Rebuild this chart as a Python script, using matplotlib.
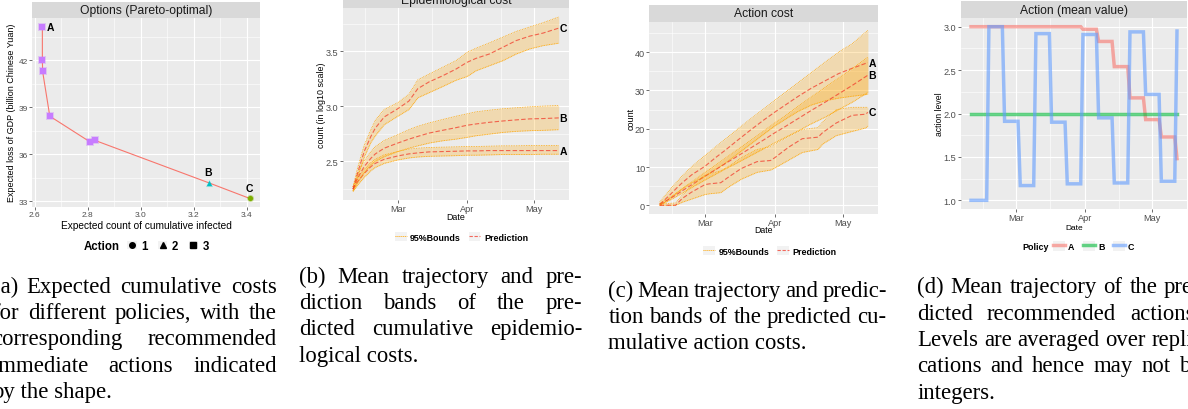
import numpy as np
import matplotlib
matplotlib.use('Agg')
import matplotlib.pyplot as plt
import matplotlib.dates as mdates
from matplotlib.lines import Line2D
from matplotlib.patches import Rectangle
from matplotlib.legend_handler import HandlerTuple

W, H = 1188, 410
START = np.datetime64('2020-02-10')

# (a) Pareto-optimal options
opt_infected = [2.629, 2.629, 2.630, 2.657, 2.809, 2.827, 3.256, 3.411]
opt_gdp_loss = [44.14, 42.00, 41.28, 38.43, 36.79, 36.89, 34.19, 33.19]
opt_action = [3, 3, 3, 3, 3, 3, 2, 1]
opt_names = {0: 'A', 6: 'B', 7: 'C'}

# (b) epidemiological cost, log10 counts
epi_days = [0, 2, 5, 8, 10, 14, 20, 25, 29, 34, 40, 46, 51, 55, 61, 67, 73, 79, 85, 92]
epi_A_mean = [2.245, 2.312, 2.388, 2.450, 2.480, 2.517, 2.547, 2.566, 2.575, 2.584, 2.587, 2.590, 2.593, 2.593, 2.596, 2.596, 2.596, 2.596, 2.596, 2.596]
epi_A_lo = [2.226, 2.281, 2.352, 2.413, 2.443, 2.480, 2.511, 2.529, 2.538, 2.544, 2.547, 2.550, 2.554, 2.554, 2.557, 2.560, 2.560, 2.560, 2.563, 2.563]
epi_A_hi = [2.266, 2.343, 2.425, 2.486, 2.517, 2.557, 2.587, 2.609, 2.618, 2.624, 2.627, 2.630, 2.633, 2.633, 2.636, 2.639, 2.639, 2.642, 2.642, 2.642]
epi_B_mean = [2.245, 2.343, 2.450, 2.526, 2.566, 2.618, 2.664, 2.700, 2.725, 2.755, 2.780, 2.804, 2.826, 2.838, 2.853, 2.865, 2.875, 2.884, 2.887, 2.893]
epi_B_lo = [2.226, 2.303, 2.394, 2.465, 2.498, 2.541, 2.587, 2.618, 2.639, 2.664, 2.685, 2.700, 2.716, 2.731, 2.746, 2.761, 2.771, 2.777, 2.780, 2.786]
epi_B_hi = [2.266, 2.382, 2.505, 2.587, 2.633, 2.688, 2.740, 2.786, 2.817, 2.847, 2.878, 2.908, 2.930, 2.948, 2.963, 2.976, 2.985, 2.994, 3.000, 3.006]
epi_C_mean = [2.245, 2.388, 2.587, 2.725, 2.801, 2.902, 2.976, 3.046, 3.159, 3.220, 3.275, 3.336, 3.398, 3.434, 3.474, 3.535, 3.596, 3.636, 3.664, 3.709]
epi_C_lo = [2.229, 2.352, 2.535, 2.670, 2.731, 2.832, 2.908, 2.969, 3.076, 3.122, 3.177, 3.235, 3.269, 3.321, 3.367, 3.413, 3.474, 3.520, 3.550, 3.572]
epi_C_hi = [2.266, 2.434, 2.642, 2.786, 2.872, 2.970, 3.031, 3.107, 3.239, 3.291, 3.352, 3.413, 3.489, 3.526, 3.575, 3.627, 3.679, 3.719, 3.758, 3.810]

# (c) action cost
act_days = [0, 2, 5, 8, 10, 14, 20, 25, 29, 34, 40, 46, 51, 55, 61, 67, 73, 79, 85, 92]
act_A_mean = [0.3, 1.3, 3.0, 4.8, 5.9, 7.9, 10.2, 12.6, 14.4, 16.8, 19.6, 22.3, 24.4, 26.0, 28.4, 30.6, 32.5, 34.4, 35.8, 37.3]
act_A_lo = [0.0, 0.7, 2.0, 3.3, 4.2, 5.8, 7.6, 9.5, 11.0, 13.2, 15.9, 18.6, 20.8, 22.3, 24.5, 26.2, 27.3, 28.0, 28.5, 29.0]
act_A_hi = [0.8, 2.3, 4.4, 6.4, 7.7, 10.0, 13.0, 15.4, 17.3, 19.7, 22.5, 25.2, 27.5, 29.3, 32.0, 34.7, 37.4, 40.0, 42.2, 45.7]
act_B_mean = [0.2, 0.9, 1.9, 3.0, 3.8, 5.3, 7.6, 9.4, 10.9, 12.7, 14.9, 17.1, 19.0, 20.4, 22.6, 24.8, 26.9, 29.1, 31.3, 34.0]
act_B_lo = [0.0, 0.6, 1.5, 2.5, 3.2, 4.6, 6.6, 8.2, 9.5, 11.0, 12.9, 14.8, 16.4, 17.6, 19.4, 21.3, 23.0, 25.0, 26.9, 29.5]
act_B_hi = [0.4, 1.2, 2.3, 3.5, 4.4, 6.0, 8.6, 10.6, 12.3, 14.4, 16.9, 19.4, 21.6, 23.2, 25.8, 28.3, 30.8, 33.2, 35.7, 38.7]
act_C_days = [0, 7, 10, 14, 20, 22, 27, 30, 36, 43, 49, 51, 57, 63, 70, 72, 78, 85, 91, 92]
act_C_mean = [0.0, 0.0, 1.8, 3.4, 5.4, 5.6, 5.9, 7.2, 9.6, 11.4, 11.7, 12.5, 15.2, 17.4, 17.8, 19.0, 21.5, 23.5, 23.8, 24.3]
act_C_lo = [0.0, 0.0, 0.8, 1.6, 2.8, 3.0, 3.3, 4.6, 6.8, 8.6, 9.2, 9.8, 11.8, 13.8, 14.6, 16.0, 18.2, 19.3, 20.2, 20.7]
act_C_hi = [0.3, 0.6, 2.6, 5.0, 7.8, 8.2, 9.0, 10.0, 12.4, 14.6, 15.3, 16.0, 18.0, 19.8, 20.3, 21.8, 25.0, 25.6, 25.6, 25.6]

# (d) mean action level, corner points of the step paths
lvl_A_days = [0, 49, 50, 56, 57, 63, 64, 70, 71, 77, 78, 84, 85, 91, 92]
lvl_A_vals = [3.00, 3.00, 2.97, 2.97, 2.83, 2.83, 2.54, 2.54, 2.18, 2.18, 1.93, 1.93, 1.73, 1.73, 1.48]
lvl_B_days = [0, 92]
lvl_B_vals = [2.00, 2.00]
lvl_C_days = [0, 7, 8, 14, 15, 21, 22, 28, 29, 35, 36, 42, 43, 49, 50, 56, 57, 63, 64, 70, 71, 77, 78, 84, 85, 91, 92]
lvl_C_vals = [1.00, 1.00, 3.00, 3.00, 1.91, 1.91, 1.17, 1.17, 2.92, 2.92, 1.90, 1.90, 1.19, 1.19, 2.91, 2.91,
              1.95, 1.95, 1.20, 1.20, 2.94, 2.94, 2.22, 2.22, 1.22, 1.22, 2.95]

cap_a = ["(a) Expected cumulative costs", "for different policies, with the", "corresponding recommended",
         "immediate actions indicated", "by the shape."]
cap_b = ["(b) Mean trajectory and pre-", "diction bands of the pre-", "dicted cumulative epidemio-", "logical costs."]
cap_c = ["(c) Mean trajectory and predic-", "tion bands of the predicted cu-", "mulative action costs."]
cap_d = ["(d) Mean trajectory of the pre-", "dicted recommended actions.", "Levels are averaged over repli-",
         "cations and hence may not be", "integers."]

ACTION_STYLE = {1: ('o', '#7CAE00'), 2: ('^', '#00BFC4'), 3: ('s', '#C77CFF')}
POLICY_COL = {'A': '#F8766D', 'B': '#00BA38', 'C': '#619CFF'}
BAND = 'orange'
PRED = '#F23A2A'

plt.rcParams['font.family'] = 'Liberation Sans'
fig = plt.figure(figsize=(W / 100, H / 100), dpi=100)


def fx(x):
    return x / W


def fy(y):
    return 1 - y / H


def panel(l, t, r, b, title, strip_h=17):
    # t is the top of the facet strip, b the bottom of the plotting panel (pixels)
    s = fig.add_axes([fx(l), fy(t + strip_h), (r - l) / W, strip_h / H])
    s.set_facecolor('#D9D9D9')
    s.set_xticks([]); s.set_yticks([])
    for sp in s.spines.values():
        sp.set_visible(False)
    s.text(0.5, 0.5, title, ha='center', va='center', fontsize=8.7, color='#1A1A1A', transform=s.transAxes)
    ax = fig.add_axes([fx(l), fy(b), (r - l) / W, (b - t - strip_h) / H])
    ax.set_facecolor('#EBEBEB')
    for sp in ax.spines.values():
        sp.set_visible(False)
    ax.grid(which='major', color='white', lw=0.8)
    ax.grid(which='minor', color='white', lw=0.4)
    ax.set_axisbelow(True)
    ax.tick_params(which='major', length=2, width=0.5, color='#333333', labelcolor='#4D4D4D', pad=1, labelsize=6.6)
    ax.tick_params(which='minor', length=0)
    return ax


def expand(lo, hi):
    d = (hi - lo) * 0.05
    return lo - d, hi + d


def to_dates(days):
    return START + np.asarray(days).astype('timedelta64[D]')


def date_axis(ax):
    t0 = mdates.date2num(START)
    ax.set_xlim(t0 - 4.6, t0 + 96.6)
    ax.xaxis.set_major_locator(mdates.MonthLocator())
    ax.xaxis.set_major_formatter(mdates.DateFormatter('%b'))
    starts = mdates.date2num(np.arange('2020-02', '2020-07', dtype='datetime64[M]').astype('datetime64[D]'))
    ax.xaxis.set_minor_locator(matplotlib.ticker.FixedLocator((starts[:-1] + starts[1:]) / 2))


def label(x, y, s, size, rot=0):
    fig.text(fx(x), fy(y), s, ha='center', va='center', fontsize=size, rotation=rot, color='black')


def legend(handles, labels, lx, cy, size, hl, title=None, tx=None):
    fig.legend(handles, labels, loc='center left', bbox_to_anchor=(fx(lx), fy(cy)), ncol=len(labels),
               frameon=False, prop=dict(weight='bold', size=size), handlelength=hl, handleheight=hl,
               handletextpad=0.4, columnspacing=0.9, borderpad=0, borderaxespad=0,
               handler_map={tuple: HandlerTuple(ndivide=1, pad=0)})
    if title:
        fig.text(fx(tx), fy(cy), title, ha='left', va='center', fontsize=size, weight='bold')


key_bg = lambda: Rectangle((0, 0), 1, 1, facecolor='#F2F2F2', edgecolor='none')

# ---------- (a) ----------
ax = panel(32, 2.7, 260, 208, 'Options (Pareto-optimal)', strip_h=16.3)
ax.plot(opt_infected, opt_gdp_loss, color='#F8766D', lw=0.8, zorder=2)
acts = np.array(opt_action)
for act, (mk, col) in ACTION_STYLE.items():
    m = acts == act
    xs = np.array(opt_infected)[m]
    ys = np.array(opt_gdp_loss)[m]
    ax.scatter(xs, ys, marker=mk, s=26, color=col, alpha=0.35, lw=0, zorder=3)
    ax.scatter(xs, ys, marker=mk, s=14, color=col, lw=0, zorder=4)
for i, name in opt_names.items():
    if name == 'A':
        ax.annotate(name, (opt_infected[i], opt_gdp_loss[i]), xytext=(3, 0), textcoords='offset points',
                    ha='left', va='center', fontsize=7.5, weight='bold')
    else:
        ax.annotate(name, (opt_infected[i], opt_gdp_loss[i]), xytext=(0, 7.5), textcoords='offset points',
                    ha='center', va='center', fontsize=7.5, weight='bold')
ax.set_xlim(*expand(min(opt_infected), max(opt_infected)))
ax.set_ylim(*expand(min(opt_gdp_loss), max(opt_gdp_loss)))
ax.set_xticks([2.6, 2.8, 3.0, 3.2, 3.4])
ax.set_xticks([2.7, 2.9, 3.1, 3.3], minor=True)
ax.set_yticks([33, 36, 39, 42])
ax.set_yticks([34.5, 37.5, 40.5, 43.5], minor=True)
ax.tick_params(labelsize=6.0)
label(146, 225.7, 'Expected count of cumulative infected', 7.3)
label(11.7, 113, 'Expected loss of GDP (billion Chinese Yuan)', 6.5, rot=90)
hs = [(key_bg(), Line2D([], [], ls='none', marker=mk, color='black', ms=4)) for mk, _ in ACTION_STYLE.values()]
legend(hs, ['1', '2', '3'], 127.3, 247, 8.3, 0.8, title='Action', tx=84)

# ---------- (b) ----------
ax = panel(342.7, -7.7, 569, 201, 'Epidemiological cost')
d = to_dates(epi_days)
for name, mean, lo, hi in [('A', epi_A_mean, epi_A_lo, epi_A_hi), ('B', epi_B_mean, epi_B_lo, epi_B_hi),
                           ('C', epi_C_mean, epi_C_lo, epi_C_hi)]:
    ax.fill_between(d, lo, hi, color=BAND, alpha=0.25, lw=0)
    ax.plot(d, lo, color=BAND, lw=0.6, ls=(0, (1, 1)))
    ax.plot(d, hi, color=BAND, lw=0.6, ls=(0, (1, 1)))
    ax.plot(d, mean, color=PRED, alpha=0.75, lw=0.8, ls=(0, (4, 2)))
    ax.annotate(name, (d[-1], mean[-1]), xytext=(0.5, 0), textcoords='offset points',
                ha='left', va='center', fontsize=7.5, weight='bold')
date_axis(ax)
ax.set_ylim(*expand(min(epi_A_lo), max(epi_C_hi)))
ax.set_yticks([2.5, 3.0, 3.5])
ax.set_yticks([2.25, 2.75, 3.25, 3.75], minor=True)
label(455.8, 217.3, 'Date', 6.4)
label(321, 105, 'count (in log10 scale)', 6.4, rot=90)
hb = [(key_bg(), Line2D([], [], color=BAND, lw=0.7, ls=(0, (1, 1)))),
      (key_bg(), Line2D([], [], color=PRED, alpha=0.75, lw=0.8, ls=(0, (3, 1.5))))]
legend(hb, ['95%Bounds', 'Prediction'], 395, 237.7, 6.4, 1.3)

# ---------- (c) ----------
ax = panel(649.3, 5.7, 878.3, 215, 'Action cost')
d = to_dates(act_days)
dc = to_dates(act_C_days)
for name, dd, mean, lo, hi in [('A', d, act_A_mean, act_A_lo, act_A_hi), ('B', d, act_B_mean, act_B_lo, act_B_hi),
                               ('C', dc, act_C_mean, act_C_lo, act_C_hi)]:
    ax.fill_between(dd, lo, hi, color=BAND, alpha=0.25, lw=0)
    ax.plot(dd, lo, color=BAND, lw=0.6, ls=(0, (1, 1)))
    ax.plot(dd, hi, color=BAND, lw=0.6, ls=(0, (1, 1)))
    ax.plot(dd, mean, color=PRED, alpha=0.75, lw=0.8, ls=(0, (4, 2)))
    ax.annotate(name, (dd[-1], mean[-1]), xytext=(0.5, 0), textcoords='offset points',
                ha='left', va='center', fontsize=7.5, weight='bold')
date_axis(ax)
ax.set_ylim(*expand(0, max(act_A_hi)))
ax.set_yticks([0, 10, 20, 30, 40])
ax.set_yticks([5, 15, 25, 35, 45], minor=True)
label(763.8, 231, 'Date', 6.3)
label(630.7, 119, 'count', 6.5, rot=90)
legend(hb, ['95%Bounds', 'Prediction'], 703.3, 251.7, 6.4, 1.3)

# ---------- (d) ----------
ax = panel(960.7, 2.3, 1187.3, 210, 'Action (mean value)', strip_h=16.7)
for name, dd, vals in [('A', lvl_A_days, lvl_A_vals), ('B', lvl_B_days, lvl_B_vals), ('C', lvl_C_days, lvl_C_vals)]:
    ax.plot(to_dates(dd), vals, color=POLICY_COL[name], lw=2.5, alpha=0.6, solid_joinstyle='miter')
date_axis(ax)
ax.set_ylim(*expand(1.0, 3.0))
ax.set_yticks([1.0, 1.5, 2.0, 2.5, 3.0])
ax.set_yticks([1.25, 1.75, 2.25, 2.75], minor=True)
label(1074, 228, 'Date', 6.0)
label(939.3, 114.5, 'action level', 6.2, rot=90)
hd = [(key_bg(), Line2D([], [], color=POLICY_COL[n], lw=2.5, alpha=0.6)) for n in 'ABC']
legend(hd, ['A', 'B', 'C'], 1052.7, 247.3, 6.4, 1.35, title='Policy', tx=1022.3)

# ---------- captions (justified like the LaTeX original) ----------
renderer = fig.canvas.get_renderer()
LINE_H = 26.4


def caption(lines, left, right, base):
    for i, line in enumerate(lines):
        y = fy(base + i * LINE_H)
        kw = dict(fontsize=16.4, family='Liberation Serif', va='baseline', ha='left', color='black')
        if i == len(lines) - 1:
            fig.text(fx(left), y, line, **kw)
            continue
        words = line.split()
        texts = [fig.text(0, y, w, **kw) for w in words]
        widths = [t.get_window_extent(renderer).width for t in texts]
        gap = (right - left - sum(widths)) / (len(words) - 1)
        x = left
        for t, w in zip(texts, widths):
            t.set_x(fx(x))
            x += w + gap


caption(cap_a, -7.5, 276.7, 292.7)
caption(cap_b, 299, 582.3, 282.7)
caption(cap_c, 608.3, 886.7, 296.7)
caption(cap_d, 917.3, 1200.5, 293.3)

fig.savefig('out.png', dpi=100)
